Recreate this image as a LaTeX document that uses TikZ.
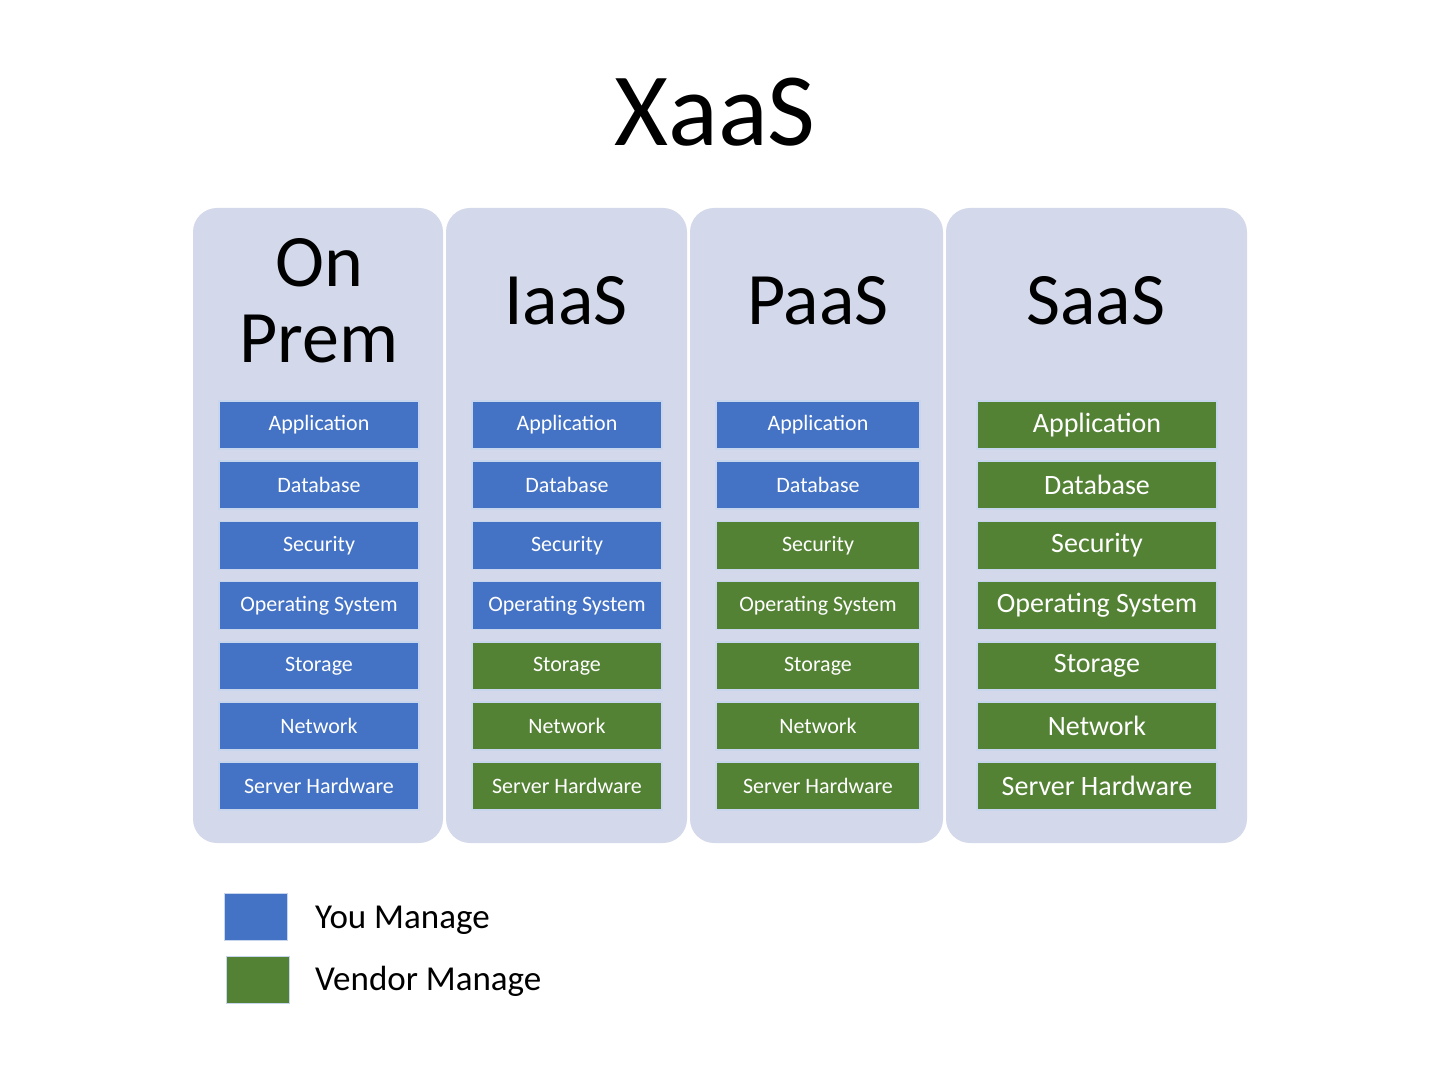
\documentclass[tikz,border=0pt]{standalone}
\usepackage{fontspec}
\setmainfont{Carlito}
\definecolor{panel}{HTML}{D3D9EA}
\definecolor{blu}{HTML}{4472C4}
\definecolor{grn}{HTML}{548235}
\begin{document}
\begin{tikzpicture}[x=0.5pt,y=-0.5pt,
  pan/.style={fill=panel,draw=none,rounded corners=12pt},
  box/.style={draw=white!70!blu,line width=0.8pt,text=white,inner sep=0pt},
  ttl/.style={font=\fontsize{37}{38}\selectfont,align=center}]
\useasboundingbox[fill=white] (0,0) rectangle (1440,1080);
\node (title) at (715,112) {\fontsize{52}{52}\selectfont XaaS};
\fill[pan] (193,208) rectangle (443,843);
\fill[pan] (446,208) rectangle (687,843);
\fill[pan] (690,208) rectangle (943,843);
\fill[pan] (946,208) rectangle (1247,843);
\node[ttl] (t1) at (319,301) {On\\Prem};
\node[ttl] (t2) at (566,301) {IaaS};
\node[ttl] (t3) at (818,301) {PaaS};
\node[ttl] (t4) at (1096,301) {SaaS};
\def\rows{Application,Database,Security,Operating System,Storage,Network,Server Hardware}
\foreach \cx/\w/\nb/\fs/\col in {319/200/7/11/1,567/190/4/11/2,818/204/2/11/3,1097/240/0/14/4}{
  \foreach \t [count=\i] in \rows {
    \pgfmathsetmacro\yy{425+(\i-1)*60.2}
    \ifnum\i>\nb \def\cc{grn}\else\def\cc{blu}\fi
    \node[box,fill=\cc,minimum width=\w*0.5pt,minimum height=24pt,font=\fontsize{\fs}{\fs}\selectfont] (b\col-\i) at (\cx,\yy) {\t};
  }
}
\node[box,fill=blu,minimum width=31.5pt,minimum height=23.5pt] (lb) at (256,917) {};
\node[box,fill=grn,minimum width=31.5pt,minimum height=23.5pt] (lg) at (258,980) {};
\node[anchor=west,font=\fontsize{17.5}{17.5}\selectfont] (ly) at (308,920) {You Manage};
\node[anchor=west,font=\fontsize{17.5}{17.5}\selectfont] (lv) at (308,981) {Vendor Manage};
\end{tikzpicture}
\end{document}
